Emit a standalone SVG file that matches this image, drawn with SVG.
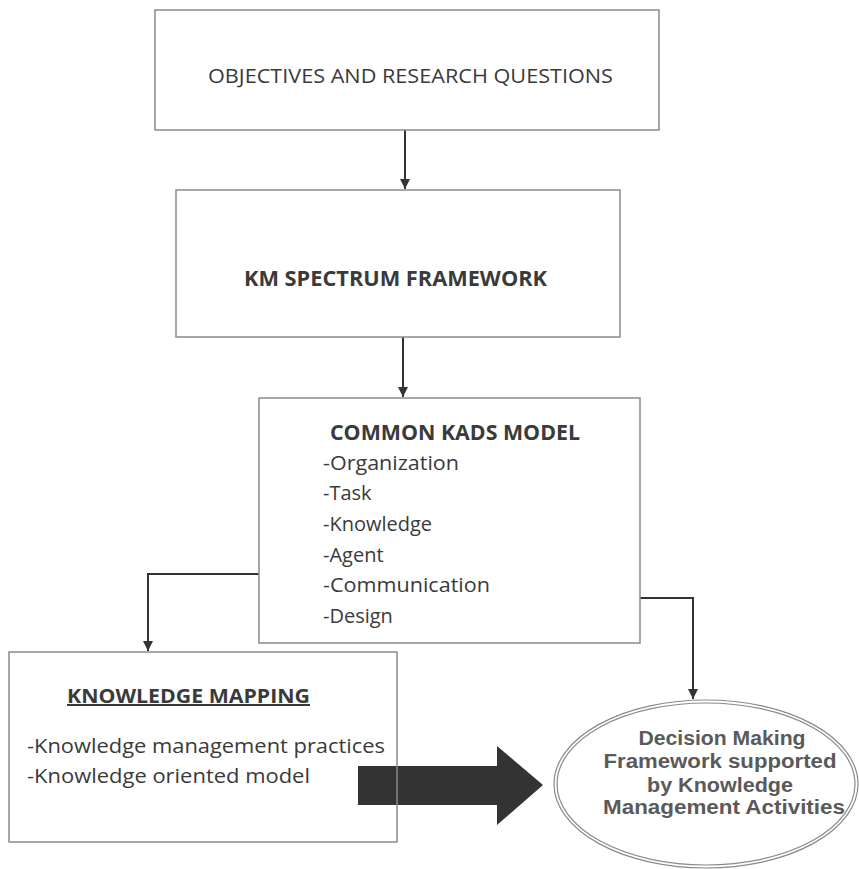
<svg xmlns="http://www.w3.org/2000/svg" width="859" height="869" viewBox="0 0 859 869">
<style>
.box{fill:none;stroke:#8a8a8a;stroke-width:1.5}
.conn{fill:none;stroke:#333;stroke-width:2}
.t{font-family:"Open Sans","Liberation Sans",sans-serif;fill:#3a3a3a}
.b{font-weight:bold}
.et{font-family:"Liberation Sans","Open Sans",sans-serif;font-weight:bold;fill:#5a5a5a;font-size:20px;text-anchor:middle}
</style>
<defs>
<marker id="ah" viewBox="0 0 10 10" refX="10" refY="5" markerWidth="5" markerHeight="6" orient="auto" markerUnits="strokeWidth">
<path d="M0,0 L10,5 L0,10 z" fill="#333"/>
</marker>
</defs>
<rect width="859" height="869" fill="#fff"/>
<g id="connectors">
<line class="conn" x1="405" y1="130" x2="405" y2="189" marker-end="url(#ah)"/>
<line class="conn" x1="403" y1="337" x2="403" y2="397" marker-end="url(#ah)"/>
<polyline class="conn" points="259,574 148,574 148,651" marker-end="url(#ah)"/>
<polyline class="conn" points="640,598 693,598 693,699" marker-end="url(#ah)"/>
<polygon id="big-arrow" points="358,766 497,766 497,746 543,785 497,825 497,805 358,805" fill="#333"/>
</g>
<g id="objectives">
<rect class="box" x="155" y="10" width="504" height="120"/>
<text class="t" x="208" y="83" font-size="20" textLength="405" lengthAdjust="spacingAndGlyphs">OBJECTIVES AND RESEARCH QUESTIONS</text>
</g>
<g id="km-spectrum">
<rect class="box" x="176" y="190" width="444" height="147"/>
<text class="t b" x="244" y="286" font-size="21" textLength="303" lengthAdjust="spacingAndGlyphs">KM SPECTRUM FRAMEWORK</text>
</g>
<g id="common-kads">
<rect class="box" x="259" y="398" width="381" height="245"/>
<text class="t b" x="330" y="440" font-size="21" textLength="250" lengthAdjust="spacingAndGlyphs">COMMON KADS MODEL</text>
<text class="t" x="323" y="470" font-size="20" textLength="136" lengthAdjust="spacingAndGlyphs">-Organization</text>
<text class="t" x="323" y="500" font-size="20">-Task</text>
<text class="t" x="323" y="531" font-size="20">-Knowledge</text>
<text class="t" x="323" y="562" font-size="20">-Agent</text>
<text class="t" x="323" y="592" font-size="20" textLength="167" lengthAdjust="spacingAndGlyphs">-Communication</text>
<text class="t" x="323" y="623" font-size="20">-Design</text>
</g>
<g id="knowledge-mapping">
<rect class="box" x="9" y="652" width="388" height="190"/>
<text class="t b" x="67" y="703" font-size="20" textLength="243" lengthAdjust="spacingAndGlyphs" text-decoration="underline">KNOWLEDGE MAPPING</text>
<text class="t" x="27" y="753" font-size="20" textLength="358" lengthAdjust="spacingAndGlyphs">-Knowledge management practices</text>
<text class="t" x="27" y="783" font-size="20" textLength="283" lengthAdjust="spacingAndGlyphs">-Knowledge oriented model</text>
</g>
<g id="decision-making">
<ellipse cx="706" cy="784" rx="152" ry="84" fill="#fff" stroke="#8a8a8a" stroke-width="1.2"/>
<ellipse cx="706" cy="784" rx="149" ry="81" fill="none" stroke="#8a8a8a" stroke-width="1.2"/>
<text class="et" x="722" y="745" textLength="167" lengthAdjust="spacingAndGlyphs">Decision Making</text>
<text class="et" x="720" y="768" textLength="233" lengthAdjust="spacingAndGlyphs">Framework supported</text>
<text class="et" x="720" y="792" textLength="146" lengthAdjust="spacingAndGlyphs">by Knowledge</text>
<text class="et" x="724" y="814" textLength="242" lengthAdjust="spacingAndGlyphs">Management Activities</text>
</g>
</svg>
